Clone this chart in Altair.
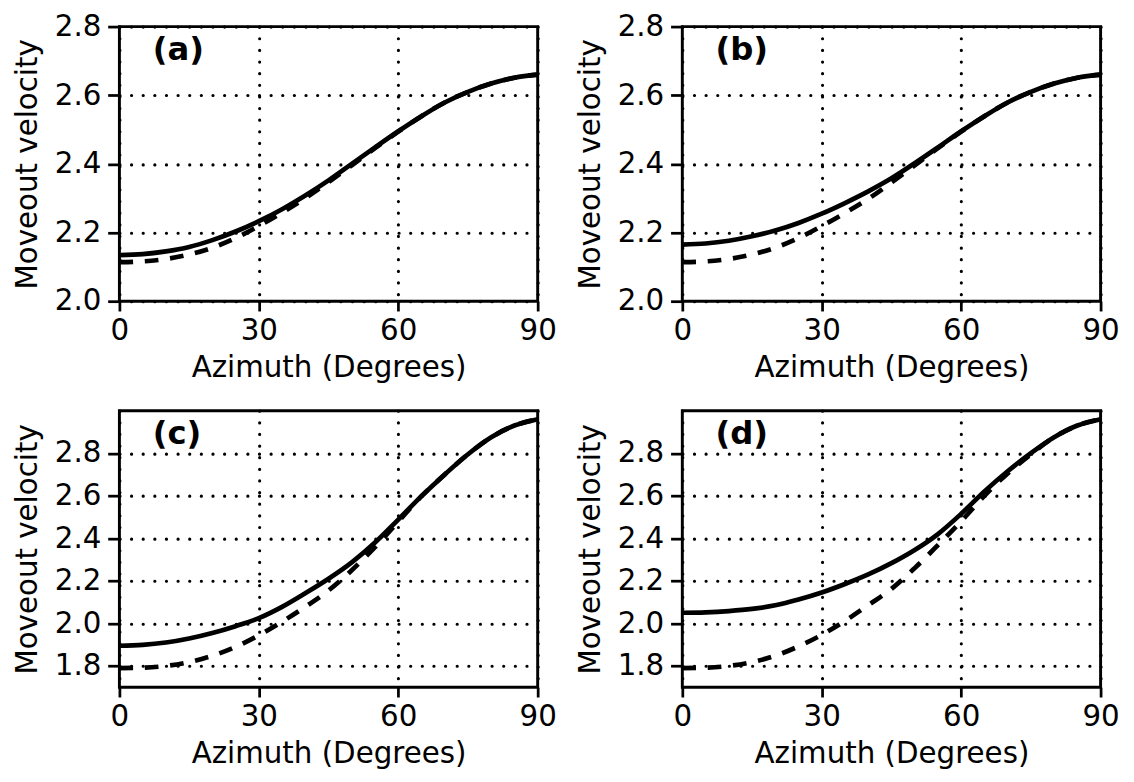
import altair as alt
import pandas as pd

# ---- data ----
azimuth = [0, 5, 10, 15, 20, 25, 30, 35, 40, 45, 50, 55, 60, 65, 70, 75, 80, 85, 90]

solid_a = [2.134, 2.137, 2.145, 2.158, 2.178, 2.203, 2.233, 2.268, 2.308, 2.352,
           2.400, 2.448, 2.495, 2.539, 2.579, 2.610, 2.634, 2.651, 2.660]
dashed_a = [2.114, 2.116, 2.123, 2.136, 2.156, 2.184, 2.219, 2.258, 2.300, 2.347,
            2.396, 2.446, 2.494, 2.539, 2.579, 2.610, 2.634, 2.651, 2.660]

solid_b = [2.165, 2.168, 2.176, 2.189, 2.206, 2.228, 2.255, 2.286, 2.320, 2.358,
           2.402, 2.448, 2.495, 2.539, 2.579, 2.610, 2.634, 2.651, 2.660]
dashed_b = [2.114, 2.116, 2.123, 2.136, 2.156, 2.184, 2.219, 2.257, 2.298, 2.346,
            2.396, 2.446, 2.494, 2.539, 2.579, 2.610, 2.634, 2.651, 2.660]

solid_c = [1.895, 1.899, 1.910, 1.929, 1.955, 1.987, 2.025, 2.078, 2.142, 2.210,
           2.287, 2.380, 2.488, 2.598, 2.700, 2.795, 2.875, 2.930, 2.960]
dashed_c = [1.790, 1.792, 1.800, 1.818, 1.848, 1.890, 1.944, 2.008, 2.078, 2.155,
            2.250, 2.358, 2.478, 2.598, 2.700, 2.795, 2.875, 2.930, 2.960]

solid_d = [2.050, 2.052, 2.058, 2.068, 2.085, 2.112, 2.145, 2.185, 2.230, 2.283,
           2.345, 2.420, 2.515, 2.620, 2.715, 2.800, 2.875, 2.930, 2.960]
dashed_d = [1.790, 1.792, 1.800, 1.818, 1.848, 1.892, 1.946, 2.012, 2.086, 2.162,
            2.260, 2.368, 2.480, 2.600, 2.705, 2.795, 2.875, 2.930, 2.960]

panel_labels = ["(a)", "(b)", "(c)", "(d)"]
x_ticks = [0, 30, 60, 90]
top_ticks = [2.0, 2.2, 2.4, 2.6, 2.8]
bottom_ticks = [1.8, 2.0, 2.2, 2.4, 2.6, 2.8]
top_domain = [2.0, 2.8]
bottom_domain = [1.7, 3.0]

FONT = "DejaVu Sans"


def panel(solid, dashed, label, domain, ticks, height):
    n = len(azimuth)
    df = pd.DataFrame({
        "az": azimuth + azimuth,
        "v": solid + dashed,
        "kind": ["solid"] * n + ["dashed"] * n,
    })
    x = alt.X("az:Q",
              scale=alt.Scale(domain=[0, 90], nice=False),
              axis=alt.Axis(values=x_ticks, title="Azimuth (Degrees)",
                            labelFlush=False, format="d"))
    y = alt.Y("v:Q",
              scale=alt.Scale(domain=domain, nice=False, zero=False),
              axis=alt.Axis(values=ticks, format=".1f", title="Moveout velocity"))
    base = alt.Chart(df)
    solid_line = base.transform_filter(alt.datum.kind == "solid").mark_line(
        color="black", strokeWidth=4.8, interpolate="monotone"
    ).encode(x=x, y=y)
    dashed_line = base.transform_filter(alt.datum.kind == "dashed").mark_line(
        color="black", strokeWidth=4.8, interpolate="monotone", strokeDash=[14, 12]
    ).encode(x=x, y=y)
    text = alt.Chart(pd.DataFrame({"label": [label]})).mark_text(
        align="left", baseline="alphabetic", font=FONT, fontWeight="bold",
        fontSize=33, color="black"
    ).encode(x=alt.value(34), y=alt.value(34), text="label:N")
    return alt.layer(solid_line, dashed_line, text).properties(width=428, height=height)


pa = panel(solid_a, dashed_a, panel_labels[0], top_domain, top_ticks, 281)
pb = panel(solid_b, dashed_b, panel_labels[1], top_domain, top_ticks, 281)
pc = panel(solid_c, dashed_c, panel_labels[2], bottom_domain, bottom_ticks, 283)
pd_ = panel(solid_d, dashed_d, panel_labels[3], bottom_domain, bottom_ticks, 283)

top_row = alt.hconcat(pa, pb, spacing=16)
bottom_row = alt.hconcat(pc, pd_, spacing=16)

chart = alt.vconcat(top_row, bottom_row, spacing=24).properties(
    padding={"left": 3, "top": -7, "right": 5, "bottom": 5}
).configure_axis(
    labelFont=FONT, labelFontSize=30, labelColor="black",
    titleFont=FONT, titleFontSize=30, titleFontWeight="normal", titleColor="black",
    tickColor="black", tickWidth=2.8,
    domain=False,
    grid=True, gridColor="black", gridOpacity=1, gridWidth=3.2,
    gridDash=[0.1, 11.8], gridCap="round",
).configure_axisX(
    tickSize=10, labelPadding=5, titlePadding=8,
).configure_axisY(
    tickSize=12, labelPadding=7, titlePadding=12,
).configure_view(
    stroke="black", strokeWidth=3
)

chart.save("out.html", embed_options={"renderer": "svg", "actions": False})
